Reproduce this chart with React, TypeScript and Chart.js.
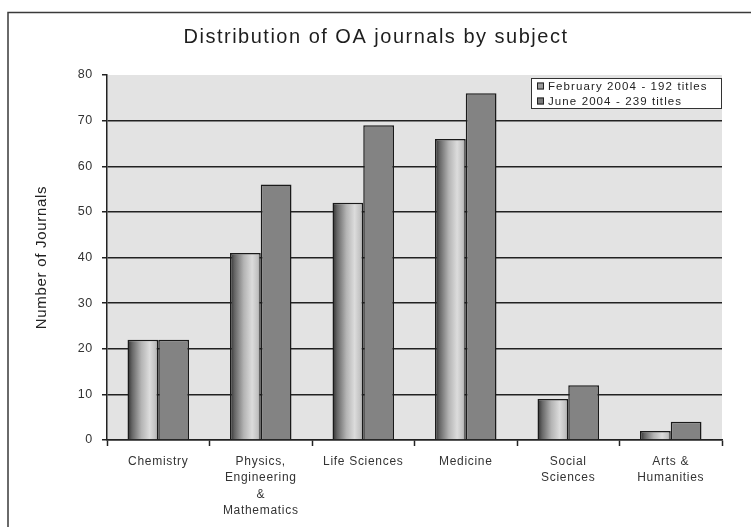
import React, { useEffect, useRef } from 'react';
import { Chart, registerables } from 'chart.js';

Chart.register(...registerables);

const categories: string[][] = [
  ['Chemistry'],
  ['Physics,', 'Engineering', '&', 'Mathematics'],
  ['Life Sciences'],
  ['Medicine'],
  ['Social', 'Sciences'],
  ['Arts &', 'Humanities'],
];
const feb2004 = [22, 41, 52, 66, 9, 2];
const jun2004 = [22, 56, 69, 76, 12, 4];
const seriesLabels = ['February 2004 - 192 titles', 'June 2004 - 239 titles'];
const yMin = 0;
const yMax = 80;
const yStep = 10;
const chartTitle = 'Distribution of OA journals by subject';
const yAxisTitle = 'Number of Journals';

const FONT = '"Liberation Sans", Arial, sans-serif';
const CAT_PCT = 0.6;

function febGradient(c: any) {
  const chart = c.chart;
  const xs = chart.scales && chart.scales.x;
  if (!xs || c.type !== 'data' || !chart.chartArea) return '#b0b0b0';
  const n = categories.length;
  const catW = (xs.right - xs.left) / n;
  const center = xs.getPixelForValue(c.dataIndex);
  const left = center - (catW * CAT_PCT) / 2;
  const w = (catW * CAT_PCT) / 2;
  const g = chart.ctx.createLinearGradient(left, 0, left + w, 0);
  g.addColorStop(0, '#2e2e2e');
  g.addColorStop(0.15, '#666666');
  g.addColorStop(0.45, '#b4b4b4');
  g.addColorStop(0.72, '#dcdcdc');
  g.addColorStop(0.9, '#c2c2c2');
  g.addColorStop(1, '#9c9c9c');
  return g;
}

const decorPlugin = {
  id: 'decor',
  beforeDraw(chart: any) {
    const { ctx, chartArea } = chart;
    ctx.save();
    ctx.fillStyle = '#ffffff';
    ctx.fillRect(0, 0, chart.width, chart.height);
    ctx.fillStyle = '#e3e3e3';
    ctx.fillRect(chartArea.left, chartArea.top, chartArea.right - chartArea.left, chartArea.bottom - chartArea.top);
    ctx.strokeStyle = '#3a3a3a';
    ctx.lineWidth = 1.5;
    ctx.beginPath();
    ctx.moveTo(8, chart.height + 5);
    ctx.lineTo(8, 12.5);
    ctx.lineTo(chart.width + 5, 12.5);
    ctx.stroke();
    ctx.restore();
    (ctx as any).letterSpacing = '0.7px';
  },
  afterDraw(chart: any) {
    const { ctx } = chart;
    ctx.save();
    (ctx as any).letterSpacing = '1.5px';
    ctx.fillStyle = '#1e1e1e';
    ctx.font = `20px ${FONT}`;
    ctx.textAlign = 'center';
    ctx.textBaseline = 'middle';
    ctx.fillText(chartTitle, 376, 37);

    // legend box
    const bx = 531, by = 78, bw = 190, bh = 30;
    ctx.fillStyle = '#ffffff';
    ctx.fillRect(bx, by, bw, bh);
    ctx.strokeStyle = '#333333';
    ctx.lineWidth = 1;
    ctx.strokeRect(bx + 0.5, by + 0.5, bw, bh);
    const swatch = ['#9a9a9a', '#7a7a7a'];
    chart.data.datasets.forEach((ds: any, i: number) => {
      const cy = by + 8 + i * 15;
      ctx.fillStyle = swatch[i];
      ctx.fillRect(bx + 6, cy - 3.5, 7, 7);
      ctx.strokeStyle = '#222';
      ctx.strokeRect(bx + 6.5, cy - 3, 6, 6);
      (ctx as any).letterSpacing = '1.1px';
      ctx.fillStyle = '#222';
      ctx.font = `11.5px ${FONT}`;
      ctx.textAlign = 'left';
      ctx.textBaseline = 'middle';
      ctx.fillText(ds.label, bx + 17, cy + 0.5);
    });
    ctx.restore();
  },
};

export default function App() {
  const ref = useRef<HTMLCanvasElement>(null);
  useEffect(() => {
    const canvas = ref.current!;
    const chart = new Chart(canvas, {
      type: 'bar',
      data: {
        labels: categories,
        datasets: [
          {
            label: seriesLabels[0],
            data: feb2004,
            backgroundColor: febGradient as any,
            borderColor: '#1a1a1a',
            borderWidth: 1.5,
            categoryPercentage: CAT_PCT,
            barPercentage: 1,
          },
          {
            label: seriesLabels[1],
            data: jun2004,
            backgroundColor: '#838383',
            borderColor: '#1a1a1a',
            borderWidth: 1.5,
            categoryPercentage: CAT_PCT,
            barPercentage: 1,
          },
        ],
      },
      options: {
        responsive: false,
        devicePixelRatio: 1,
        animation: false,
        layout: { padding: { top: 75, right: 29, left: 0, bottom: 0 } },
        plugins: {
          legend: { display: false },
          title: { display: false },
          tooltip: { enabled: false },
        },
        scales: {
          x: {
            afterFit: (s: any) => { s.height = 87; },
            grid: {
              display: true,
              drawOnChartArea: false,
              drawTicks: true,
              tickLength: 6,
              tickColor: '#222',
              tickWidth: 1.5,
              offset: true,
            },
            border: { display: true, color: '#222', width: 1.5 },
            ticks: {
              color: '#333',
              font: { family: FONT, size: 12, lineHeight: 1.38 },
              padding: 7,
              maxRotation: 0,
              autoSkip: false,
            },
          },
          y: {
            min: yMin,
            max: yMax,
            afterFit: (s: any) => { s.width = 107; },
            ticks: {
              stepSize: yStep,
              color: '#333',
              font: { family: FONT, size: 12.5 },
              padding: 9,
            },
            grid: {
              color: (c: any) => (c.tick && c.tick.value === yMax ? 'rgba(0,0,0,0)' : '#222'),
              lineWidth: 1.5,
              tickLength: 5,
              tickColor: '#222',
              tickWidth: 1.5,
            },
            border: { display: true, color: '#222', width: 1.5 },
            title: {
              display: true,
              text: yAxisTitle,
              color: '#222',
              font: { family: FONT, size: 15 },
              padding: { top: 33, bottom: 0 },
            },
          },
        },
      },
      plugins: [decorPlugin],
    });
    return () => chart.destroy();
  }, []);
  return (
    <div style={{ position: 'fixed', left: 0, top: 0, width: 751, height: 527, background: '#fff' }}>
      <canvas ref={ref} width={751} height={527} style={{ display: 'block' }} />
    </div>
  );
}
